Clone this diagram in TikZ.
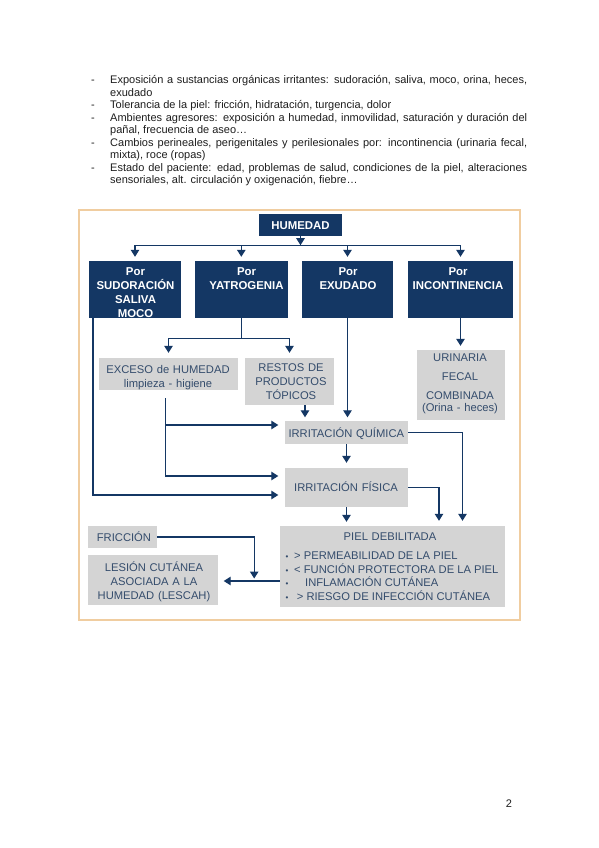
\documentclass[tikz,border=0pt]{standalone}
\usepackage{fontspec}
\setmainfont{Liberation Sans}
\usetikzlibrary{arrows.meta,calc}
\definecolor{navy}{RGB}{20,55,100}
\definecolor{boxgray}{RGB}{212,212,212}
\definecolor{graytext}{RGB}{52,76,108}
\definecolor{framecol}{RGB}{240,205,160}
\definecolor{bodytext}{RGB}{30,30,30}
\begin{document}
\begin{tikzpicture}[x=1pt,y=-1pt,
  navybox/.style={rectangle, fill=navy, draw=none, inner sep=0pt},
  graybox/.style={rectangle, fill=boxgray, draw=none, inner sep=0pt},
  wtxt/.style={text=white, inner sep=0pt, anchor=base, align=center, text width=120pt,
               font=\fontsize{11.4}{14}\selectfont\bfseries},
  gtxt/.style={text=graytext, inner sep=0pt, anchor=base, align=center, text width=150pt,
               font=\fontsize{11.2}{14}\selectfont},
  gltxt/.style={text=graytext, inner sep=0pt, anchor=base west,
               font=\fontsize{11.2}{14}\selectfont},
  bodytxt/.style={text=bodytext, inner sep=0pt, anchor=base west, text width=417pt, align=justify,
               font=\fontsize{11}{12.45}\selectfont},
  dashtxt/.style={text=bodytext, inner sep=0pt, anchor=base, font=\fontsize{11}{12.45}\selectfont},
  conn/.style={draw=navy, line width=1.15pt},
  arr/.style={conn, -{Triangle[width=8.5pt,length=7pt]}},
]
\useasboundingbox (0,0) rectangle (599,848);
\fill[white] (0,0) rectangle (599,848);

% ---- bullet text ----
\node[dashtxt] (d1) at (93,84) {-};
\node[bodytxt] (p1) at (110,84) {Exposición a sustancias orgánicas irritantes: sudoración, saliva, moco, orina, heces,\linebreak exudado};
\node[dashtxt] (d2) at (93,109) {-};
\node[bodytxt] (p2) at (110,109) {Tolerancia de la piel: fricción, hidratación, turgencia, dolor};
\node[dashtxt] (d3) at (93,121.4) {-};
\node[bodytxt] (p3) at (110,121.4) {Ambientes agresores: exposición a humedad, inmovilidad, saturación y duración del\linebreak pañal, frecuencia de aseo…};
\node[dashtxt] (d4) at (93,146.3) {-};
\node[bodytxt] (p4) at (110,146.3) {Cambios perineales, perigenitales y perilesionales por: incontinencia (urinaria fecal,\linebreak mixta), roce (ropas)};
\node[dashtxt] (d5) at (93,171.2) {-};
\node[bodytxt] (p5) at (110,171.2) {Estado del paciente: edad, problemas de salud, condiciones de la piel, alteraciones\linebreak sensoriales, alt. circulación y oxigenación, fiebre…};

% ---- frame ----
\draw[framecol, line width=2pt] (79,210) rectangle (520,620);

% ---- boxes ----
\node[navybox, minimum width=83pt, minimum height=22pt] (hum) at (300.5,225) {};
\node[navybox, minimum width=92pt, minimum height=57pt] (b1) at (135,289.5) {};
\node[navybox, minimum width=92.7pt, minimum height=57pt] (b2) at (241.3,289.5) {};
\node[navybox, minimum width=91.6pt, minimum height=57pt] (b3) at (347.5,289.5) {};
\node[navybox, minimum width=105pt, minimum height=57pt] (b4) at (460.5,289.5) {};

\node[graybox, minimum width=139pt, minimum height=32pt] (exc) at (168.5,374) {};
\node[graybox, minimum width=89pt, minimum height=47pt] (rest) at (289.5,381.5) {};
\node[graybox, minimum width=88pt, minimum height=70pt] (uri) at (461,385) {};
\node[graybox, minimum width=123pt, minimum height=23pt] (quim) at (346.5,432.5) {};
\node[graybox, minimum width=123pt, minimum height=39pt] (fis) at (346.5,487.5) {};
\node[graybox, minimum width=225pt, minimum height=81pt] (piel) at (392.5,566.5) {};
\node[graybox, minimum width=69pt, minimum height=22pt] (fric) at (122.5,537) {};
\node[graybox, minimum width=130pt, minimum height=50pt] (les) at (153,580) {};

% ---- texts ----
\node[wtxt] (thum) at (300.5,229.5) {HUMEDAD};
\node[wtxt] (tb1) at (135.5,275) {Por\\SUDORACIÓN\\SALIVA\\MOCO};
\node[wtxt] (tb2) at (246.5,275) {Por\\YATROGENIA};
\node[wtxt] (tb3) at (348,275) {Por\\EXUDADO};
\node[wtxt] (tb4) at (458,275) {Por\\INCONTINENCIA};

\node[gtxt] (texc) at (168,373) {EXCESO de HUMEDAD\\limpieza - higiene};
\node[gtxt] (trest) at (291,371.7) {RESTOS DE\\PRODUCTOS\\TÓPICOS};
\node[gtxt] (turi1) at (460,361.5) {URINARIA};
\node[gtxt] (turi2) at (460,380) {FECAL};
\node[gtxt] (turi3) at (460,399) {COMBINADA};
\node[gtxt] (turi4) at (460,411) {(Orina - heces)};
\node[gtxt] (tquim) at (346.3,437.5) {IRRITACIÓN QUÍMICA};
\node[gtxt] (tfis) at (346,491.5) {IRRITACIÓN FÍSICA};
\node[gtxt] (tpiel) at (390,540.5) {PIEL DEBILITADA};
\node[gltxt] (bu1) at (285.5,559.5) {\fontsize{8}{8}\selectfont •};
\node[gltxt] (bu2) at (285.5,573) {\fontsize{8}{8}\selectfont •};
\node[gltxt] (bu3) at (285.5,586) {\fontsize{8}{8}\selectfont •};
\node[gltxt] (bu4) at (285.5,600) {\fontsize{8}{8}\selectfont •};
\node[gltxt] (tp1) at (294,559.5) {> PERMEABILIDAD DE LA PIEL};
\node[gltxt] (tp2) at (294,573) {< FUNCIÓN PROTECTORA DE LA PIEL};
\node[gltxt] (tp3) at (305,586) {INFLAMACIÓN CUTÁNEA};
\node[gltxt] (tp4) at (296.7,600) {> RIESGO DE INFECCIÓN CUTÁNEA};
\node[gltxt] (tfric) at (96.7,541.5) {FRICCIÓN};
\node[gtxt, font=\fontsize{11.2}{14.2}\selectfont] (tles) at (154,571.5) {LESIÓN CUTÁNEA\\ASOCIADA A LA\\HUMEDAD (LESCAH)};

% ---- connectors ----
\coordinate (bus) at ($(hum.south)+(0,9)$);
\draw[arr] (hum.south) -- (bus);
\draw[conn] (b1.north |- bus) -- (b4.north |- bus);
\draw[arr, shorten >=4pt] (b1.north |- bus) -- (b1.north);
\draw[arr, shorten >=4pt] (b2.north |- bus) -- (b2.north);
\draw[arr, shorten >=4pt] (b3.north |- bus) -- (b3.north);
\draw[arr, shorten >=4pt] (b4.north |- bus) -- (b4.north);

% yatrogenia split
\coordinate (b2bus) at ($(b2.south)+(0,20)$);
\draw[conn] (b2.south) -- (b2bus);
\draw[arr, shorten >=5pt] (b2bus) -| (exc.north);
\draw[arr, shorten >=5pt] (b2bus) -| (rest.north);

% sudoracion -> fisica
\coordinate (b1o) at ($(b1.south)+(-42,0)$);
\draw[arr, shorten >=6.5pt] (b1o) |- ($(fis.west)+(0,7.5)$);

% exudado -> quimica
\draw[arr, shorten >=3.5pt] (b3.south) -- (b3.south |- quim.north);

% incontinencia -> urinaria
\draw[arr, shorten >=4pt] (b4.south) -- (b4.south |- uri.north);

% exceso -> quimica / fisica
\coordinate (excs) at ($(exc.south)+(-2.8,8)$);
\draw[arr, shorten >=6.5pt] (excs) |- ($(quim.west)+(0,-7.5)$);
\draw[arr, shorten >=6.5pt] (excs) |- ($(fis.west)+(0,-11.5)$);

% restos -> quimica
\draw[arr, shorten >=3.5pt] ($(rest.south)+(15.5,0)$) -- ($(quim.north)+(-41.5,0)$);

% quimica -> fisica
\draw[arr, shorten >=5pt] (quim.south) -- (fis.north);

% quimica -> piel
\draw[arr, shorten >=5pt] (quim.east) -| ($(piel.north)+(70,0)$);
% fisica -> piel
\draw[arr, shorten >=5pt] (fis.east) -| ($(piel.north)+(46.5,0)$);
\draw[arr, shorten >=4pt] (fis.south) -- (fis.south |- piel.north);

% piel -> lesion
\draw[arr, shorten >=5.5pt] ($(piel.west)+(0,14.5)$) -- ($(les.east)+(0,1)$);
% friccion -> junction
\coordinate (jn) at ($(les.east)+(36,-1.5)$);
\draw[arr] (fric.east) -| (jn);

% page number
\node[dashtxt] (pg) at (509,807) {2};
\end{tikzpicture}
\end{document}
